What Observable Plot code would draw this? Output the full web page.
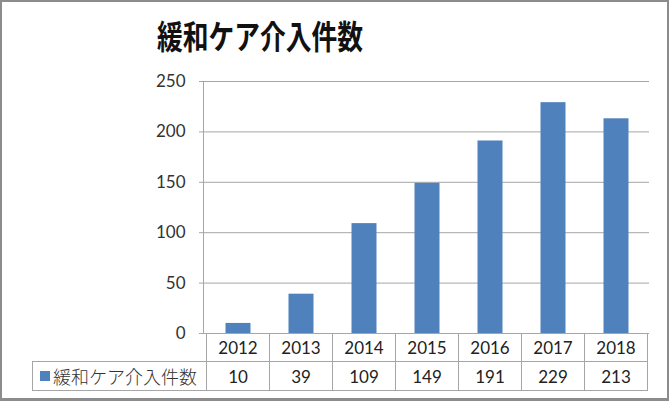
<!DOCTYPE html>
<html>
<head>
<meta charset="utf-8">
<script src="https://cdn.jsdelivr.net/npm/d3@7"></script>
<script src="https://cdn.jsdelivr.net/npm/@observablehq/plot@0.6"></script>
<style>
  html, body { margin: 0; padding: 0; background: #fff; }
  #wrap { position: relative; width: 670px; height: 402px; overflow: hidden; background: #fff; }
  #frame { position: absolute; left: 0; top: 0; width: 669px; height: 401px; box-sizing: border-box; border: 2px solid #8c8c8c; border-bottom-width: 3px; pointer-events: none; }
  #title { position: absolute; left: 157px; top: 19px; font-family: "Noto Sans CJK JP", sans-serif; font-weight: 700; font-size: 33px; line-height: 1; color: #111; white-space: nowrap; transform: scaleX(0.78); transform-origin: 0 0; }
  #chart { position: absolute; left: 0; top: 0; }
  .cell { position: absolute; box-sizing: border-box; border-color: #a6a6a6; border-style: solid; border-width: 0; font-family: Lato, sans-serif; font-size: 17px; color: #222; display: flex; align-items: center; justify-content: center; }
  .legend { font-family: "Noto Sans CJK JP", sans-serif; font-size: 18px; font-weight: 300; justify-content: flex-start; padding-left: 7px; color: #333; }
  .sw { display: inline-block; width: 10px; height: 10px; margin-right: 3px; }
</style>
</head>
<body>
<div id="wrap">
  <div id="chart"></div>
  <div id="title"></div>
  <div id="frame"></div>
</div>
<script>
const titleText = "緩和ケア介入件数";
const seriesName = "緩和ケア介入件数";
const years = ["2012", "2013", "2014", "2015", "2016", "2017", "2018"];
const counts = [10, 39, 109, 149, 191, 229, 213];
const yTicks = [0, 50, 100, 150, 200, 250];
const barColor = "#4F81BD";

const data = years.map((year, i) => ({year, value: counts[i]}));

document.getElementById("title").textContent = titleText;

const chart = Plot.plot({
  width: 670,
  height: 350,
  marginLeft: 203,
  marginRight: 21,
  marginTop: 81,
  marginBottom: 17,
  style: {background: "transparent", fontFamily: "Lato, sans-serif"},
  x: {type: "band", domain: years, padding: 0, axis: null},
  y: {domain: [0, 250], axis: null},
  marks: [
    Plot.gridY(yTicks, {stroke: "#a6a6a6", strokeOpacity: 1}),
    Plot.axisY(yTicks, {tickSize: 4, tickPadding: 14, stroke: "#a6a6a6", strokeOpacity: 1, fontSize: 17, fill: "#333", label: null}),
    Plot.frame({anchor: "left", stroke: "#a6a6a6", strokeOpacity: 1}),
    Plot.barY(data, {x: "year", y: "value", fill: barColor, insetLeft: 19.5, insetRight: 18.5})
  ]
});
document.getElementById("chart").appendChild(chart);

// data table below the plot, aligned with the plot's x band scale
const xs = chart.scale("x");
const bw = xs.bandwidth;
const wrap = document.getElementById("wrap");
const top1 = 333, h1 = 29, top2 = 362, h2 = 29;
const tableLeft = 32;

function cell(left, top, width, height, borders, content, cls) {
  const d = document.createElement("div");
  d.className = "cell" + (cls ? " " + cls : "");
  d.style.left = left + "px";
  d.style.top = top + "px";
  d.style.width = width + "px";
  d.style.height = height + "px";
  for (const b of borders) d.style["border" + b + "Width"] = "1px";
  if (typeof content === "string") d.textContent = content; else d.appendChild(content);
  wrap.appendChild(d);
  return d;
}

years.forEach((year, i) => {
  const x0 = Math.round(xs.apply(year));
  const x1 = Math.round(xs.apply(year) + bw);
  const last = i === years.length - 1;
  cell(x0, top1, x1 - x0 + (last ? 1 : 0), h1, last ? ["Left", "Bottom", "Right"] : ["Left", "Bottom"], year);
  cell(x0, top2, x1 - x0 + (last ? 1 : 0), h2, last ? ["Left", "Bottom", "Right"] : ["Left", "Bottom"], String(counts[i]));
});

const leg = document.createElement("span");
const sw = document.createElement("span");
sw.className = "sw";
sw.style.background = barColor;
leg.appendChild(sw);
leg.appendChild(document.createTextNode(seriesName));
leg.style.display = "flex";
leg.style.alignItems = "center";
const firstX = Math.round(xs.apply(years[0]));
cell(tableLeft, top2 - 1, firstX - tableLeft, h2 + 1, ["Left", "Top", "Bottom"], leg, "legend");
</script>
</body>
</html>
